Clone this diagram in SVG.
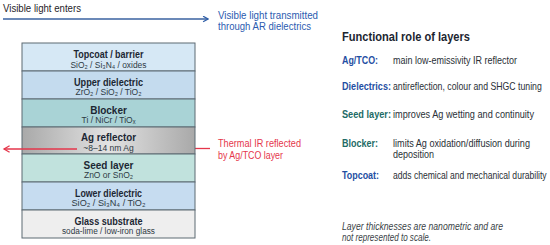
<svg xmlns="http://www.w3.org/2000/svg" width="550" height="245" viewBox="0 0 550 245">
<defs>
<linearGradient id="ag" x1="0" y1="0" x2="1" y2="0">
<stop offset="0" stop-color="#a9a9a9"/>
<stop offset="0.5" stop-color="#e2e2e2"/>
<stop offset="1" stop-color="#a9a9a9"/>
</linearGradient>
<marker id="ab" viewBox="0 0 10 10" refX="8" refY="5" markerWidth="7" markerHeight="7" orient="auto" markerUnits="userSpaceOnUse">
<path d="M1,1 L8,5 L1,9" fill="none" stroke="#2f5ea8" stroke-width="1.8"/>
</marker>
<marker id="ar" viewBox="0 0 10 10" refX="8" refY="5" markerWidth="8" markerHeight="8" orient="auto" markerUnits="userSpaceOnUse">
<path d="M1,1 L8,5 L1,9" fill="none" stroke="#e5364b" stroke-width="1.6"/>
</marker>
</defs>
<style>
text{font-family:"Liberation Sans",Arial,sans-serif}
.lay{stroke:#5d6a73;stroke-width:1}
.lt{font-size:10px;font-weight:bold;fill:#1c2733;text-anchor:middle}
.ls{font-size:8.5px;fill:#2e3a44;text-anchor:middle}
.blue{fill:#2b5bb0}
.red{fill:#e5364b}
.h{font-size:13px;font-weight:bold;fill:#1c2530}
.lab{font-size:10.5px;font-weight:bold}
.lb{fill:#1f4fa3}
.lg{fill:#1d6b66}
.d{font-size:10px;fill:#2a2f36}
.note{font-size:10px;font-style:italic;fill:#3a3f46}
</style>
<rect width="550" height="245" fill="#ffffff"/>

<g id="connectors">
<line x1="3" y1="19" x2="208" y2="19" stroke="#3a62a0" stroke-width="1.3" marker-end="url(#ab)"/>
<line x1="195" y1="148.5" x2="210" y2="148.5" stroke="#e5364b" stroke-width="1.3"/>
</g>

<g id="layer-topcoat">
<rect class="lay" x="22" y="43" width="173" height="28" fill="#d6e8f5"/>
<text class="lt" x="108.5" y="57.5" textLength="70" lengthAdjust="spacingAndGlyphs">Topcoat / barrier</text>
<text class="ls" x="108.5" y="67.5" textLength="76" lengthAdjust="spacingAndGlyphs">SiO₂ / Si₃N₄ / oxides</text>
</g>
<g id="layer-upper-dielectric">
<rect class="lay" x="22" y="71" width="173" height="28" fill="#c4dbee"/>
<text class="lt" x="108.5" y="85.5" textLength="69" lengthAdjust="spacingAndGlyphs">Upper dielectric</text>
<text class="ls" x="108.5" y="95">ZrO₂ / SiO₂ / TiO₂</text>
</g>
<g id="layer-blocker">
<rect class="lay" x="22" y="99" width="173" height="28" fill="#a9d3d6"/>
<text class="lt" x="108.5" y="113.5">Blocker</text>
<text class="ls" x="108.5" y="123">Ti / NiCr / TiOₓ</text>
</g>
<g id="layer-ag">
<rect class="lay" x="22" y="127" width="173" height="27" fill="url(#ag)"/>
<text class="lt" x="108.5" y="141" textLength="55" lengthAdjust="spacingAndGlyphs">Ag reflector</text>
<text class="ls" x="108.5" y="150.5">~8–14 nm Ag</text>
</g>
<g id="layer-seed">
<rect class="lay" x="22" y="154" width="173" height="28" fill="#c1e2dd"/>
<text class="lt" x="108.5" y="168.5">Seed layer</text>
<text class="ls" x="108.5" y="178">ZnO or SnO₂</text>
</g>
<g id="layer-lower-dielectric">
<rect class="lay" x="22" y="182" width="173" height="28" fill="#c6dcf0"/>
<text class="lt" x="108.5" y="196.5" textLength="67" lengthAdjust="spacingAndGlyphs">Lower dielectric</text>
<text class="ls" x="108.5" y="206" textLength="74" lengthAdjust="spacingAndGlyphs">SiO₂ / Si₃N₄ / TiO₂</text>
</g>
<g id="layer-glass">
<rect class="lay" x="22" y="210" width="173" height="28" fill="#eeeeee"/>
<text class="lt" x="108.5" y="224.5" textLength="68" lengthAdjust="spacingAndGlyphs">Glass substrate</text>
<text class="ls" x="108.5" y="234" textLength="93" lengthAdjust="spacingAndGlyphs">soda-lime / low-iron glass</text>
</g>

<g id="ir-arrow">
<line x1="77" y1="149" x2="4" y2="149" stroke="#e5364b" stroke-width="1.3" marker-end="url(#ar)"/>
</g>

<g id="labels">
<text x="3" y="12" font-size="10.5" fill="#1f2328" textLength="78" lengthAdjust="spacingAndGlyphs">Visible light enters</text>
<text class="blue" x="218" y="19" font-size="10.5" textLength="100" lengthAdjust="spacingAndGlyphs">Visible light transmitted</text>
<text class="blue" x="218" y="30" font-size="10.5" textLength="93" lengthAdjust="spacingAndGlyphs">through AR dielectrics</text>
<text class="red" x="218" y="147" font-size="10.5" textLength="83" lengthAdjust="spacingAndGlyphs">Thermal IR reflected</text>
<text class="red" x="218" y="158.5" font-size="10.5" textLength="65" lengthAdjust="spacingAndGlyphs">by Ag/TCO layer</text>
</g>

<g id="legend">
<text class="h" x="342" y="41" textLength="128" lengthAdjust="spacingAndGlyphs">Functional role of layers</text>
<text class="lab lb" x="342" y="64" textLength="36" lengthAdjust="spacingAndGlyphs">Ag/TCO:</text>
<text class="d" x="393" y="64" textLength="124" lengthAdjust="spacingAndGlyphs">main low-emissivity IR reflector</text>
<text class="lab lb" x="342" y="90" textLength="49" lengthAdjust="spacingAndGlyphs">Dielectrics:</text>
<text class="d" transform="translate(393,90) scale(0.873,1)" x="0" y="0">antireflection, colour and SHGC tuning</text>
<text class="lab lg" x="342" y="118" textLength="49" lengthAdjust="spacingAndGlyphs">Seed layer:</text>
<text class="d" x="393" y="118" textLength="141" lengthAdjust="spacingAndGlyphs">improves Ag wetting and continuity</text>
<text class="lab lg" x="342" y="147" textLength="36" lengthAdjust="spacingAndGlyphs">Blocker:</text>
<text class="d" x="393" y="147" textLength="137" lengthAdjust="spacingAndGlyphs">limits Ag oxidation/diffusion during</text>
<text class="d" x="393" y="157.5" textLength="41" lengthAdjust="spacingAndGlyphs">deposition</text>
<text class="lab lb" x="342" y="179" textLength="37" lengthAdjust="spacingAndGlyphs">Topcoat:</text>
<text class="d" transform="translate(393,179) scale(0.857,1)" x="0" y="0">adds chemical and mechanical durability</text>
<text class="note" x="342" y="229.5" textLength="161" lengthAdjust="spacingAndGlyphs">Layer thicknesses are nanometric and are</text>
<text class="note" x="342" y="240.5" textLength="89" lengthAdjust="spacingAndGlyphs">not represented to scale.</text>
</g>
</svg>
